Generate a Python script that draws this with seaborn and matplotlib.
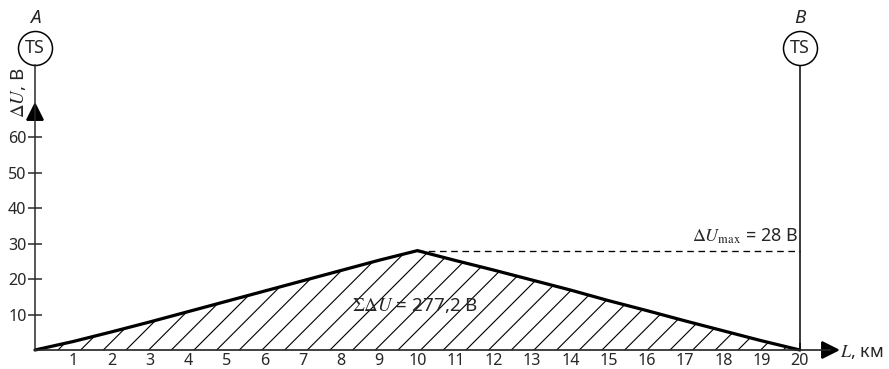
import numpy as np
import pandas as pd
import matplotlib
matplotlib.use("Agg")
import matplotlib.pyplot as plt
import seaborn as sns

# distance along the section, km, and voltage drop, V
km = [0, 1, 2, 3, 4, 5, 6, 7, 8, 9, 10, 11, 12, 13, 14, 15, 16, 17, 18, 19, 20]
du = [0, 2.4, 5.1, 7.9, 10.8, 13.7, 16.6, 19.5, 22.4, 25.3, 28.0,
      25.2, 22.5, 19.7, 16.9, 13.9, 11.1, 8.2, 5.4, 2.6, 0]
x_ticks = list(range(1, 21))
y_ticks = [10, 20, 30, 40, 50, 60]
du_max = 28
du_sum = "277,2"
stations = ["A", "B"]
station_km = [0, 20]

df = pd.DataFrame({"km": km, "du": du})

sns.set_style("white")
plt.rcParams["font.family"] = ["Noto Sans", "DejaVu Sans"]
plt.rcParams["mathtext.fontset"] = "stix"
plt.rcParams["hatch.linewidth"] = 0.6

dpi = 136
fig = plt.figure(figsize=(889 / dpi, 369 / dpi), dpi=dpi)
ax = fig.add_axes([0, 0, 1, 1])
ax.set_xlim(-0.915, 22.33)
ax.set_ylim(-5.35, 98.6)

ax.fill_between(df["km"], df["du"], 0, facecolor="white", edgecolor="black",
                hatch="//", linewidth=0)
sns.lineplot(data=df, x="km", y="du", color="black", linewidth=1.7, ax=ax,
             solid_joinstyle="round")
ax.set_xlabel("")
ax.set_ylabel("")

# dashed max line
ax.plot([10, 20], [du_max, du_max], color="black", lw=0.7, ls=(0, (5, 3.5)))
ax.text(19.95, du_max + 1.2, r"$\Delta U_{\mathrm{max}}$ = " + f"{du_max} В",
        ha="right", va="bottom", fontsize=9.5)
ax.text(8.3, 12.5, r"$\Sigma\Delta U$ = " + f"{du_sum} В", ha="left",
        va="center", fontsize=10)

# axes as spines
for s in ["top", "right"]:
    ax.spines[s].set_visible(False)
ax.spines["left"].set_position(("data", 0))
ax.spines["bottom"].set_position(("data", 0))
ax.spines["left"].set_bounds(0, 80.3)
ax.spines["bottom"].set_bounds(0, 20.8)
ax.spines["left"].set_linewidth(0.8)
ax.spines["bottom"].set_linewidth(0.9)

ax.set_xticks(x_ticks)
ax.set_xticklabels([str(t) for t in x_ticks])
ax.set_yticks(y_ticks)
ax.set_yticklabels([str(t) for t in y_ticks])
ax.tick_params(axis="x", direction="in", length=3.7, width=0.8, pad=1.5,
               labelsize=8.5, bottom=True)
ax.tick_params(axis="y", direction="inout", length=7, width=0.8, pad=1,
               labelsize=8.5, left=True)

# arrow heads
ax.plot([20.8], [0], marker=">", ms=8, color="black", clip_on=False)
ax.plot([0], [67], marker="^", ms=8, color="black", clip_on=False)

ax.text(21.05, -0.6, r"$L$, км", ha="left", va="center", fontsize=9.5)
ax.text(-0.42, 72.5, r"$\Delta U$, В", rotation=90, ha="center",
        va="center", fontsize=10)

# substation B line
ax.plot([20, 20], [0, 80.3], color="black", lw=0.8)

# substations
for name, xs in zip(stations, station_km):
    ax.plot([xs], [85.2], marker="o", ms=18, mfc="white", mec="black",
            mew=0.8, clip_on=False)
    ax.text(xs, 85.2, "TS", ha="center", va="center", fontsize=9.5)
    ax.text(xs, 93.5, name, ha="center", va="center", fontsize=10,
            style="italic")

fig.savefig("out.png", dpi=dpi)
